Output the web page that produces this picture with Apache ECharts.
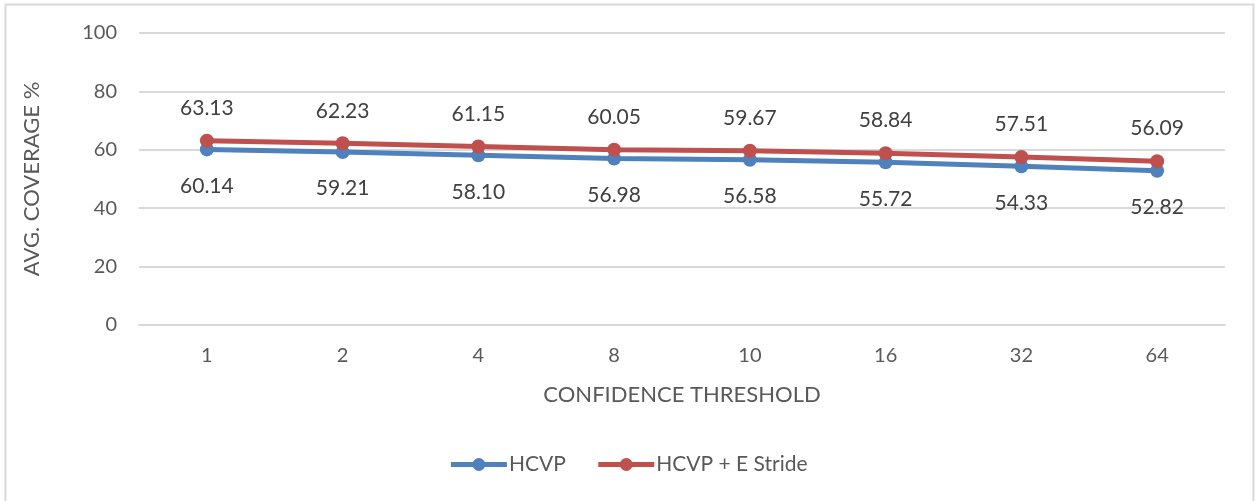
<!DOCTYPE html>
<html><head><meta charset="utf-8">
<script src="https://cdn.jsdelivr.net/npm/echarts@6/dist/echarts.min.js"></script>
<style>html,body{margin:0;padding:0;background:#fff}#c{width:1256px;height:501px}</style>
</head><body><div id="c"></div>
<script>
const categories = ['1','2','4','8','10','16','32','64'];
const hcvp = [60.14, 59.21, 58.10, 56.98, 56.58, 55.72, 54.33, 52.82];
const hcvpStride = [63.13, 62.23, 61.15, 60.05, 59.67, 58.84, 57.51, 56.09];
const yTicks = [0, 20, 40, 60, 80, 100];
const seriesNames = ['HCVP', 'HCVP + E Stride'];

const FONT = 'Lato, "Open Sans", sans-serif';
const chart = echarts.init(document.getElementById('c'), null, {renderer:'canvas'});
chart.setOption({
  animation: false,
  backgroundColor: '#fff',
  graphic: [{type:'rect', shape:{x:5.5,y:4.5,width:1248,height:520}, style:{fill:'none', stroke:'#d9d9d9', lineWidth:2}, silent:true}],
  grid: {left:139, right:31, top:33, bottom:176},
  legend: {
    bottom: 21, left: 'center', itemWidth: 56, itemHeight: 16, itemGap: 30,
    lineStyle: {width: 5},
    textStyle: {fontFamily: FONT, fontSize: 21, color: '#595959', padding: [0,0,0,-3]},
    data: seriesNames
  },
  xAxis: {
    type: 'category', data: categories, boundaryGap: true,
    name: 'CONFIDENCE THRESHOLD', nameLocation: 'middle', nameGap: 59,
    nameTextStyle: {fontFamily: FONT, fontSize: 22, color: '#595959'},
    axisLine: {show: true, lineStyle: {color: '#d9d9d9', width: 2}},
    axisTick: {show: false},
    axisLabel: {fontFamily: FONT, fontSize: 20, color: '#595959', margin: 21}
  },
  yAxis: {
    type: 'value', min: yTicks[0], max: yTicks[yTicks.length-1], interval: 20,
    name: 'AVG. COVERAGE %', nameLocation: 'middle', nameGap: 96, nameRotate: 90,
    nameTextStyle: {fontFamily: FONT, fontSize: 22, color: '#595959'},
    axisLine: {show: false}, axisTick: {show: false},
    axisLabel: {fontFamily: FONT, fontSize: 20, color: '#595959', margin: 22},
    splitLine: {lineStyle: {color: '#d9d9d9', width: 2}}
  },
  series: [
    {name: seriesNames[0], type: 'line', data: hcvp, color: '#4F81BD',
     symbol: 'circle', symbolSize: 14, lineStyle: {width: 5},
     label: {show: true, position: 'bottom', distance: 19, formatter: p => p.value.toFixed(2),
             fontFamily: FONT, fontSize: 21, color: '#404040'}},
    {name: seriesNames[1], type: 'line', data: hcvpStride, color: '#C0504D',
     symbol: 'circle', symbolSize: 14, lineStyle: {width: 5},
     label: {show: true, position: 'top', distance: 15, formatter: p => p.value.toFixed(2),
             fontFamily: FONT, fontSize: 21, color: '#404040'}}
  ]
});
</script></body></html>
